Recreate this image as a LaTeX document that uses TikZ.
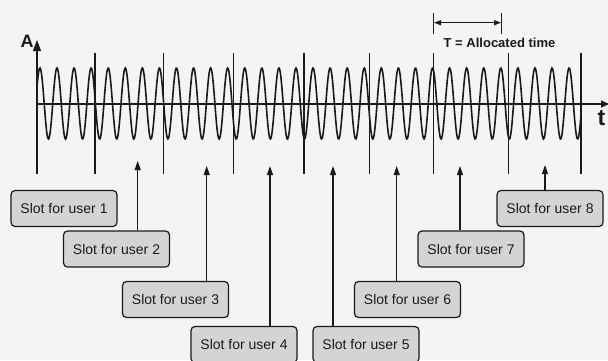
\documentclass[tikz,border=0pt]{standalone}
\usepackage{fontspec}
\setmainfont{Liberation Sans}
\usetikzlibrary{arrows.meta}
\definecolor{bg}{HTML}{F4F4F4}
\definecolor{boxfill}{HTML}{D4D4D4}
\definecolor{ink}{HTML}{1A1A1A}
\tikzset{
  slotbox/.style={draw=ink, line width=1.2pt, fill=boxfill, rounded corners=4pt,
    minimum width=106pt, minimum height=36pt, inner sep=0pt,
    font=\fontsize{14}{16}\selectfont, text=ink},
  divider/.style={draw=ink, line width=1.1pt},
  axisline/.style={draw=ink, line width=1.1pt},
  slotarrow/.style={draw=ink, line width=1.1pt, -{Triangle[width=6pt,length=9pt]}},
  wave/.style={draw=ink, line width=1.6pt},
  boldlabel/.style={text=ink, inner sep=0pt, font=\bfseries},
}
\begin{document}
\begin{tikzpicture}[x=1pt,y=-1pt]
\path[fill=bg] (0,0) rectangle (608,360);
\useasboundingbox (0,0) rectangle (608,360);

% slot dividers
\foreach \xx in {95,163.3,233.3,304,369.5,433.3,508.3,581}
  \draw[divider] (\xx,53) -- (\xx,174);

% wave
\draw[wave] plot[domain=37:581, samples=900, smooth] (\x, {103.5-35.5*cos(21.0896*(\x-57))});

% axes
\coordinate (vbot) at (37,174);
\coordinate (vtop) at (37,40);
\coordinate (origin) at (37,104);
\coordinate (hend) at (609,104);
\draw[axisline, -{Triangle[width=8pt,length=11pt]}] (vbot) -- (vtop);
\draw[axisline, -{Triangle[width=7pt,length=8pt]}] (origin) -- (hend);
\node[boldlabel, font=\bfseries\fontsize{18}{18}\selectfont] (Alab) at (27,41) {A};
\node[boldlabel, font=\bfseries\fontsize{23}{23}\selectfont] (tlab) at (601.5,118) {t};

% allocated time marker
\coordinate (T1a) at (433.3,13);
\coordinate (T1b) at (433.3,33.5);
\coordinate (T2a) at (501.7,13);
\coordinate (T2b) at (501.7,33.5);
\coordinate (Tl) at (434,22.7);
\coordinate (Tr) at (501,22.7);
\draw[axisline] (T1a) -- (T1b);
\draw[axisline] (T2a) -- (T2b);
\draw[axisline, {Triangle[width=5pt,length=7pt]}-{Triangle[width=5pt,length=7pt]}] (Tl) -- (Tr);
\node[boldlabel, font=\bfseries\fontsize{13}{13}\selectfont] (Tlab) at (499.5,42.5) {T = Allocated time};

% slot boxes
\node[slotbox] (b1) at (64,208.5) {Slot for user 1};
\node[slotbox] (b2) at (116.5,249) {Slot for user 2};
\node[slotbox] (b3) at (175.5,299.5) {Slot for user 3};
\node[slotbox] (b4) at (244,344.5) {Slot for user 4};
\node[slotbox] (b5) at (366,344.5) {Slot for user 5};
\node[slotbox] (b6) at (407.5,299.5) {Slot for user 6};
\node[slotbox] (b7) at (471,249) {Slot for user 7};
\node[slotbox] (b8) at (550,208.5) {Slot for user 8};

% arrow tips
\coordinate (p2) at (137.7,161);
\coordinate (p3) at (206.7,166);
\coordinate (p4) at (270,166);
\coordinate (p5) at (333,166);
\coordinate (p6) at (396.7,166);
\coordinate (p7) at (460,166);
\coordinate (p8) at (545,165);
\foreach \i in {2,...,8}
  \draw[slotarrow] (b\i.north -| p\i) -- (p\i);
\end{tikzpicture}
\end{document}
